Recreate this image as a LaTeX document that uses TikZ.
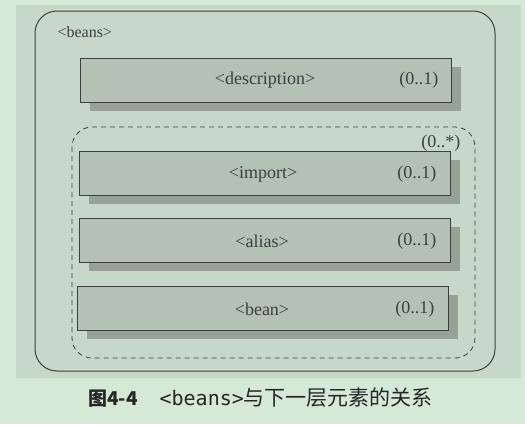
\documentclass[tikz,border=0pt]{standalone}
\usepackage{fontspec}
\setmainfont{Liberation Serif}
\newfontfamily\cjk{Noto Sans CJK SC}
\newfontfamily\capmono{DejaVu Sans Mono}
\usetikzlibrary{shadows}
\definecolor{pagebg}{RGB}{214,232,214}
\definecolor{photobg}{RGB}{200,216,200}
\definecolor{boxfill}{RGB}{180,194,180}
\definecolor{boxshadow}{RGB}{150,162,150}
\definecolor{ink}{RGB}{60,64,60}
\tikzset{
  elembox/.style={draw=ink, line width=1pt, fill=boxfill, minimum width=371pt,
    minimum height=44pt, inner sep=0pt,
    drop shadow={shadow xshift=9pt, shadow yshift=-9pt, fill=boxshadow, opacity=1}},
  elemtext/.style={font=\fontsize{18}{20}\selectfont, text=ink},
  mult/.style={font=\fontsize{18}{20}\selectfont, text=ink, anchor=east}
}
\begin{document}
\begin{tikzpicture}[x=1pt, y=-1pt]
  % page and photographed area
  \fill[pagebg] (0,0) rectangle (525,424);
  \useasboundingbox (0,0) rectangle (525,424);
  \fill[photobg] (16,5) rectangle (521,378);

  % outer <beans> frame
  \draw[ink, line width=1pt, rounded corners=22pt] (35,11) rectangle (495,371);
  \node[elemtext, anchor=west, font=\fontsize{16}{18}\selectfont] (beans) at (54,32) {<beans>};

  % <description>
  \node[elembox] (desc) at (266,80) {};
  \node[elemtext] (desct) at (265,80) {<description>};
  \node[mult] (descm) at (442,80) {(0..1)};

  % dashed group of repeated elements
  \draw[ink, line width=0.8pt, dash pattern=on 5pt off 4pt, rounded corners=20pt]
    (72,127) rectangle (475,358);
  \node[mult] (groupm) at (464,143) {(0..*)};

  \node[elembox] (imp) at (265,173) {};
  \node[elemtext] (impt) at (263,174) {<import>};
  \node[mult] (impm) at (440,174) {(0..1)};

  \node[elembox] (ali) at (265,240) {};
  \node[elemtext] (alit) at (262,241) {<alias>};
  \node[mult] (alim) at (440,241) {(0..1)};

  \node[elembox] (bean) at (263,308) {};
  \node[elemtext] (beant) at (262,309) {<bean>};
  \node[mult] (beanm) at (438,309) {(0..1)};

  % caption
  \node[anchor=west, inner sep=0pt, text=black!85] (cap) at (88,398)
    {{\cjk\bfseries\fontsize{19}{22}\selectfont 图4-4}\hspace{22pt}{\capmono\fontsize{20}{24}\selectfont <beans>}{\cjk\fontsize{21}{24}\selectfont 与下一层元素的关系}};
\end{tikzpicture}
\end{document}
